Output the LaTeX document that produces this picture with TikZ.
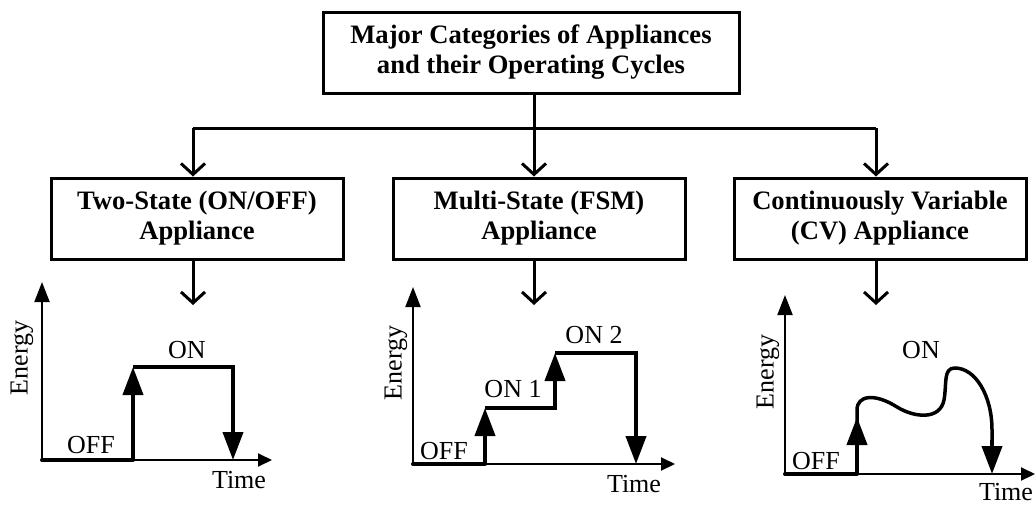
\documentclass[tikz,border=0pt]{standalone}
\usepackage{fontspec}
\setmainfont{Liberation Serif}
\usetikzlibrary{arrows.meta}
\begin{document}
\begin{tikzpicture}[x=1pt,y=-1pt,
  box/.style={draw, line width=3pt, minimum height=81pt, inner sep=0pt, align=center,
    font=\fontsize{26.6}{30}\selectfont\bfseries},
  conn/.style={line width=3pt, -{Straight Barb[length=11pt,width=24pt]}},
  axis/.style={line width=2pt, -{Triangle[length=20pt,width=15pt]}},
  xaxis/.style={line width=2pt, -{Triangle[length=14pt,width=13pt]}},
  lev/.style={line width=4pt},
  jump/.style={line width=4pt, -{Triangle[length=28pt,width=20pt]}},
  lbl/.style={font=\fontsize{26}{30}\selectfont, inner sep=0pt, anchor=base},
  ylbl/.style={font=\fontsize{26}{30}\selectfont, inner sep=0pt, rotate=90}
]
\useasboundingbox (0,0) rectangle (1036,504);

% boxes
\node[box, minimum width=416pt] (top) at (531,52.5) {Major Categories of Appliances\\and their Operating Cycles};
\node[box, minimum width=292pt] (a) at (197,218.5) {Two-State (ON/OFF)\\Appliance};
\node[box, minimum width=292pt] (m) at (539,218.5) {Multi-State (FSM)\\Appliance};
\node[box, minimum width=292pt] (c) at (880,218.5) {Continuously Variable\\(CV) Appliance};

% tree connectors
\coordinate (jL) at (193,128);
\coordinate (jM) at (534,128);
\coordinate (jR) at (876,128);
\draw[line width=3pt] (jL) -- (jR);
\draw[conn] (jM |- top.south) -- (jM |- m.north);
\draw[conn] (jL) -- (jL |- a.north);
\draw[conn] (jR) -- (jR |- c.north);

% arrows to charts
\coordinate (dA) at (193,305);
\coordinate (dM) at (534,305);
\coordinate (dC) at (876,305);
\draw[conn] (dA |- a.south) -- (dA);
\draw[conn] (dM |- m.south) -- (dM);
\draw[conn] (dC |- c.south) -- (dC);

% ---- chart 1
\coordinate (o1) at (42,460);
\coordinate (y1) at (42,282);
\coordinate (x1) at (272,460);
\draw[axis] (o1) -- (y1);
\draw[xaxis] (o1) -- (x1);
\draw[lev, line cap=round] (o1) -- (133,460);
\draw[jump] (133,460) -- (133,367);
\draw[lev] (133,367) -- (233,367) -- (233,400);
\draw[jump] (233,380) -- (233,460);
\node[lbl] (off1) at (91,453) {OFF};
\node[lbl] (on1) at (187,358) {ON};
\node[lbl] (t1) at (239,488) {Time};
\node[ylbl] (e1) at (22,358) {Energy};

% ---- chart 2
\coordinate (o2) at (413,464);
\coordinate (y2) at (413,287);
\coordinate (x2) at (675,464);
\draw[axis] (o2) -- (y2);
\draw[xaxis] (o2) -- (x2);
\draw[lev, line cap=round] (o2) -- (485,464);
\draw[jump] (485,464) -- (485,408);
\draw[lev] (485,408) -- (555,408) -- (555,395);
\draw[jump] (555,408) -- (555,353);
\draw[lev] (555,353) -- (636,353) -- (636,400);
\draw[jump] (636,380) -- (636,464);
\node[lbl] (off2) at (444,459) {OFF};
\node[lbl] (on21) at (513,397) {ON 1};
\node[lbl] (on22) at (594,343) {ON 2};
\node[lbl] (t2) at (634,492) {Time};
\node[ylbl] (e2) at (396,363) {Energy};

% ---- chart 3
\coordinate (o3) at (785,474);
\coordinate (y3) at (785,295);
\coordinate (x3) at (1035,474);
\draw[axis] (o3) -- (y3);
\draw[xaxis] (o3) -- (x3);
\draw[lev, line cap=round] (o3) -- (857,474);
\draw[jump] (857,474) -- (857,417);
\draw[line width=3.5pt] (857,425) -- (857,410)
  .. controls (857,395) and (875,393) .. (897,407)
  .. controls (915,418) and (940,420) .. (944,400)
  .. controls (947,383) and (943,368) .. (955,368)
  .. controls (975,368) and (992,395) .. (992,430) -- (992,445);
\draw[jump] (992,440) -- (992,474);
\node[lbl] (off3) at (816,469) {OFF};
\node[lbl] (on3) at (921,358) {ON};
\node[lbl] (t3) at (1006,500) {Time};
\node[ylbl] (e3) at (768,372) {Energy};
\end{tikzpicture}
\end{document}
